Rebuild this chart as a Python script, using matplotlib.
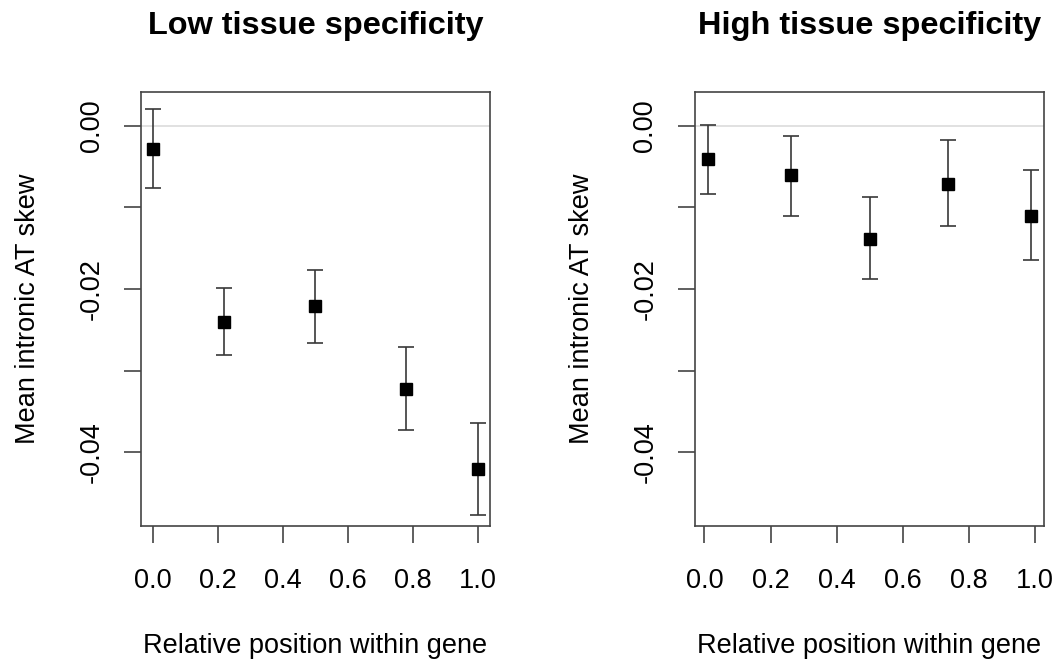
import matplotlib
matplotlib.use("Agg")
import matplotlib.pyplot as plt

plt.rcParams['font.family'] = ['Liberation Sans', 'DejaVu Sans']

# values
titles = ["Low tissue specificity", "High tissue specificity"]
x_low = [0.0, 0.22, 0.50, 0.78, 1.0]
mean_low = [-0.0028, -0.0240, -0.0221, -0.0322, -0.0420]
upper_low = [0.0020, -0.0199, -0.0177, -0.0271, -0.0364]
lower_low = [-0.0076, -0.0281, -0.0266, -0.0372, -0.0476]

x_high = [0.011, 0.262, 0.50, 0.736, 0.987]
mean_high = [-0.0041, -0.0060, -0.0138, -0.0071, -0.0110]
upper_high = [0.0001, -0.0012, -0.0087, -0.0018, -0.0054]
lower_high = [-0.0083, -0.0110, -0.0188, -0.0123, -0.0164]

xticks = [0.0, 0.2, 0.4, 0.6, 0.8, 1.0]
xtick_labels = ["0.0", "0.2", "0.4", "0.6", "0.8", "1.0"]
yticks = [-0.04, -0.03, -0.02, -0.01, 0.0]
ytick_labels = ["-0.04", "", "-0.02", "", "0.00"]

W, H = 1057, 661
fig = plt.figure(figsize=(W / 100, H / 100), dpi=100)

panels = [
    (titles[0], x_low, mean_low, upper_low, lower_low, 140.8, 490.0, (-0.037, 1.038)),
    (titles[1], x_high, mean_high, upper_high, lower_high, 694.5, 1044.0, (-0.030, 1.027)),
]
top_px, bot_px = 92.3, 526.0
box_col = "#444444"

for title, xs, m, up, lo, left_px, right_px, xlim in panels:
    w_px = right_px - left_px
    h_px = bot_px - top_px
    ax = fig.add_axes([left_px / W, 1 - bot_px / H, w_px / W, h_px / H])
    ax.axhline(0, color="#dcdcdc", lw=1.2, zorder=1)
    err = [[a - b for a, b in zip(m, lo)], [b - a for a, b in zip(m, up)]]
    ax.errorbar(xs, m, yerr=err, fmt="s", color="black", ms=8,
                ecolor="#383838", elinewidth=1.2, capsize=5.8, capthick=1.2, zorder=3)
    ax.set_xlim(*xlim)
    ax.set_ylim(-0.049, 0.0041)
    ax.set_xticks(xticks)
    ax.set_xticklabels(xtick_labels, fontsize=19.5)
    ax.set_yticks(yticks)
    ax.set_yticklabels(ytick_labels, fontsize=19.5, rotation=90, va="center")
    ax.tick_params(axis="both", direction="out", length=12.5, width=1.2, color=box_col)
    ax.tick_params(axis="x", pad=17.5)
    ax.tick_params(axis="y", pad=13.5)
    for s in ax.spines.values():
        s.set_color(box_col)
        s.set_linewidth(1.2)

    ax.set_title(title, fontsize=23.4, fontweight="bold", y=(bot_px - 34) / h_px,
                 pad=0, va="baseline")
    ax.set_xlabel("Relative position within gene", fontsize=19.5)
    ax.xaxis.set_label_coords(0.5, (bot_px - 653.3) / h_px)
    ax.xaxis.label.set_va("baseline")
    ax.set_ylabel("Mean intronic AT skew", fontsize=19.5)
    ax.yaxis.set_label_coords((35 - 140.8) / w_px, 0.5)
    ax.yaxis.label.set_va("baseline")

fig.savefig("out.png", dpi=100, facecolor="white")
